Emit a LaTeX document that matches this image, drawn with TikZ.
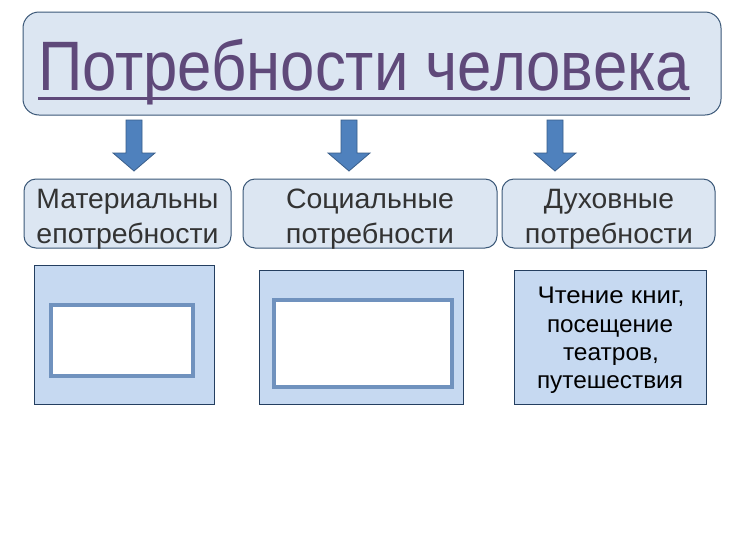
\documentclass[tikz,border=0pt]{standalone}
\usepackage{fontspec}
\setmainfont{Liberation Sans}
\definecolor{titlefill}{HTML}{DCE6F2}
\definecolor{edgecol}{HTML}{3B5878}
\definecolor{titletext}{HTML}{5F497A}
\definecolor{arrowfill}{HTML}{4F81BD}
\definecolor{arrowedge}{HTML}{385D8A}
\definecolor{boxfill}{HTML}{C6D9F1}
\definecolor{boxedge}{HTML}{243F60}
\definecolor{inneredge}{HTML}{7092BE}
\definecolor{cattext}{HTML}{333333}
\tikzset{
  titlebox/.style={draw=edgecol, line width=1pt, fill=titlefill, rounded corners=16pt, inner sep=0pt, rectangle},
  catbox/.style={draw=edgecol, line width=1pt, fill=titlefill, rounded corners=12pt, inner sep=0pt, rectangle},
  cattxt/.style={text=cattext, font=\fontsize{28}{36}\selectfont, inner sep=0pt},
  extxt/.style={text=black, font=\fontsize{24}{28}\selectfont, inner sep=0pt},
  exbox/.style={draw=boxedge, line width=0.8pt, fill=boxfill, inner sep=0pt, rectangle},
  inbox/.style={draw=inneredge, line width=4pt, fill=white, inner sep=0pt, rectangle},
  blockarrow/.style={draw=arrowedge, line width=0.8pt, fill=arrowfill},
}
\begin{document}
\begin{tikzpicture}[x=1pt,y=-1pt]
\useasboundingbox (0,0) rectangle (740,555);
\fill[white] (0,0) rectangle (740,555);
% title
\node[titlebox, minimum width=698pt, minimum height=103pt] (title) at (372,63.5) {};
\node[anchor=base, inner sep=0pt, text=titletext] (titletxt) at (364,90)
  {\resizebox{652pt}{\height}{\fontsize{70}{80}\selectfont Потребности человека}};
\draw[titletext, line width=3pt] (38,98) -- (690,98);
% arrows
\foreach \cx in {134,349,555}{
  \draw[blockarrow, shift={(\cx,120)}] (-8,0) -- (8,0) -- (8,33) -- (21,33) -- (0,51) -- (-21,33) -- (-8,33) -- cycle;
}
% categories
\node[catbox, minimum width=207pt, minimum height=69pt] (mat) at (127.5,213.5) {};
\node[catbox, minimum width=254pt, minimum height=69pt] (soc) at (370,213.5) {};
\node[catbox, minimum width=213pt, minimum height=69pt] (duh) at (608.5,213.5) {};
\node[cattxt, anchor=base] (mat1) at (127.5,208) {\resizebox{182pt}{\height}{Материальны}};
\node[cattxt, anchor=base] (mat2) at (127.5,243) {\resizebox{182pt}{\height}{епотребности}};
\node[cattxt, anchor=base] (soc1) at (370,208) {\resizebox{168pt}{\height}{Социальные}};
\node[cattxt, anchor=base] (soc2) at (370,243) {\resizebox{168pt}{\height}{потребности}};
\node[cattxt, anchor=base] (duh1) at (609,208) {\resizebox{130pt}{\height}{Духовные}};
\node[cattxt, anchor=base] (duh2) at (609,243) {\resizebox{168pt}{\height}{потребности}};
% example boxes
\node[exbox, minimum width=180pt, minimum height=139pt] (ex1) at (124,334.5) {};
\node[inbox, minimum width=142pt, minimum height=71pt] (in1) at (122,340.5) {};
\node[exbox, minimum width=204pt, minimum height=134pt] (ex2) at (361,337) {};
\node[inbox, minimum width=178pt, minimum height=87pt] (in2) at (363,343.5) {};
\node[exbox, minimum width=192pt, minimum height=134pt] (ex3) at (610,337) {};
\node[extxt, anchor=base] (ex3a) at (611,303) {\resizebox{147pt}{\height}{Чтение книг,}};
\node[extxt, anchor=base] (ex3b) at (610,332) {\resizebox{126pt}{\height}{посещение}};
\node[extxt, anchor=base] (ex3c) at (611,360) {\resizebox{96pt}{\height}{театров,}};
\node[extxt, anchor=base] (ex3d) at (610,388) {\resizebox{146pt}{\height}{путешествия}};
\end{tikzpicture}
\end{document}
